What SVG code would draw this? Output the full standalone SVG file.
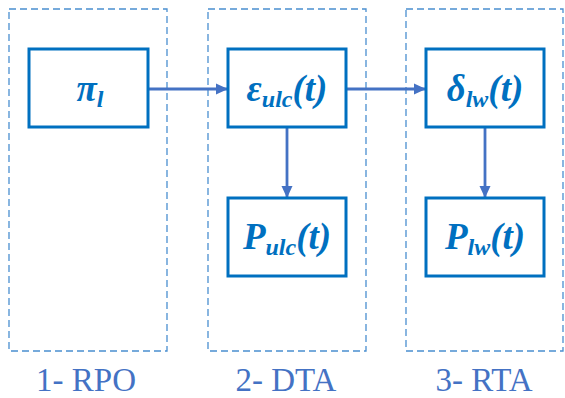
<svg xmlns="http://www.w3.org/2000/svg" width="565" height="398" viewBox="0 0 565 398">
<defs>
<style>
.stage{fill:none;stroke:#4A8FD0;stroke-width:1.3;stroke-dasharray:7,4}
.box{fill:#fff;stroke:#0070C0;stroke-width:3}
.lbl{font-weight:bold;font-style:italic;font-size:37px;fill:#0070C0;text-anchor:middle}
.sub{font-size:24px}
.cap{font-size:33px;fill:#4472C4;text-anchor:middle}
.conn{stroke:#4472C4;stroke-width:2.8;fill:none}
</style>
<marker id="ah" markerWidth="12" markerHeight="12" refX="11" refY="6" orient="auto" markerUnits="userSpaceOnUse">
<path d="M0,0.5 L12,6 L0,11.5 Z" fill="#4472C4"/>
</marker>
</defs>
<rect width="565" height="398" fill="#fff"/>
<g font-family="'Liberation Serif', 'Times New Roman', Tinos, 'Noto Serif', 'DejaVu Serif', FreeSerif, serif">
<g id="stage1"><rect class="stage" x="9" y="9" width="158" height="342"/><text class="cap" x="86" y="391">1- RPO</text></g>
<g id="stage2"><rect class="stage" x="208" y="9" width="158" height="342"/><text class="cap" x="286" y="391">2- DTA</text></g>
<g id="stage3"><rect class="stage" x="406" y="9" width="157" height="342"/><text class="cap" x="484" y="391">3- RTA</text></g>
<g id="connectors">
<line class="conn" x1="148" y1="89" x2="227" y2="89" marker-end="url(#ah)"/>
<line class="conn" x1="347" y1="89" x2="425" y2="89" marker-end="url(#ah)"/>
<line class="conn" x1="287" y1="128" x2="287" y2="197" marker-end="url(#ah)"/>
<line class="conn" x1="485" y1="128" x2="485" y2="197" marker-end="url(#ah)"/>
</g>
<g id="pi"><rect class="box" x="29" y="49" width="119" height="78"/><text class="lbl" x="90" y="101">π<tspan class="sub" dy="6">l</tspan></text></g>
<g id="eps"><rect class="box" x="228" y="49" width="118" height="78"/><text class="lbl" x="287" y="101">ε<tspan class="sub" dy="6">ulc</tspan><tspan dy="-6">(t)</tspan></text></g>
<g id="delta"><rect class="box" x="426" y="49" width="118" height="78"/><text class="lbl" x="485" y="101">δ<tspan class="sub" dy="6">lw</tspan><tspan dy="-6">(t)</tspan></text></g>
<g id="pulc"><rect class="box" x="228" y="198" width="118" height="78"/><text class="lbl" x="287" y="249">P<tspan class="sub" dy="6">ulc</tspan><tspan dy="-6">(t)</tspan></text></g>
<g id="plw"><rect class="box" x="426" y="198" width="118" height="78"/><text class="lbl" x="485" y="249">P<tspan class="sub" dy="6">lw</tspan><tspan dy="-6">(t)</tspan></text></g>
</g>
</svg>
